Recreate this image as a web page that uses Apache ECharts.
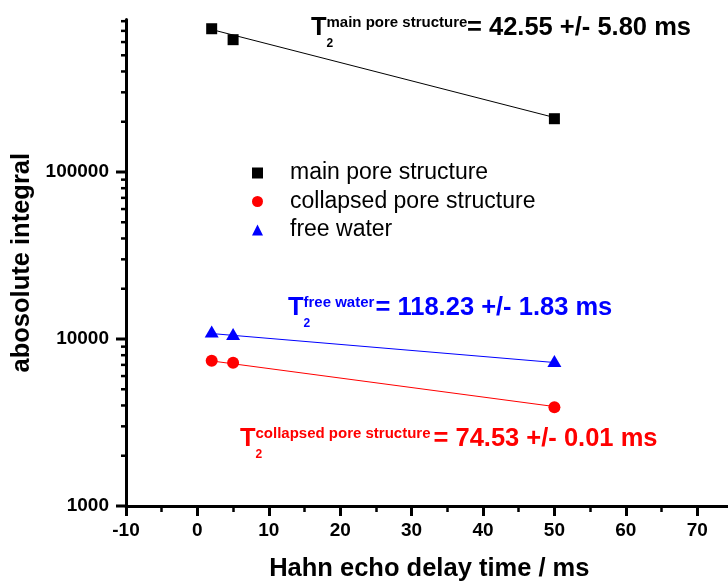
<!DOCTYPE html>
<html>
<head>
<meta charset="utf-8">
<title>Hahn echo decay</title>
<script src="https://cdn.jsdelivr.net/npm/echarts@6/dist/echarts.min.js"></script>
<style>
  html, body { margin: 0; padding: 0; background: #fff; }
  #chart { width: 728px; height: 581px; }
</style>
</head>
<body>
<div id="chart"></div>
<script>
// Hahn echo delay times (ms)
const delayTimes = [2, 5, 50];

// Absolute integrals of each component
const mainPore = [721000, 620000, 208500];
const collapsedPore = [7420, 7210, 3900];
const freeWater = [11100, 10710, 7380];

// Mono-exponential fit lines (start / end of the fitted range)
const fitTimes = [2, 50];
const fitMain = [713000, 212000];
const fitCollapsed = [7390, 3940];
const fitFree = [10780, 7230];

// Axis ranges
const xMin = -10, xMax = 80, xStep = 10;
const yMin = 1000, yMax = 820000;

// Decade and sub-decade tick marks on the log axis
const yMajorTicks = [1000, 10000, 100000];
const yMinorTicks = [
  2000, 3000, 4000, 5000, 6000, 7000, 8000, 9000,
  20000, 30000, 40000, 50000, 60000, 70000, 80000, 90000,
  200000, 300000, 400000, 500000, 600000, 700000, 800000
];

const FONT = '"Liberation Sans", Arial, sans-serif';
const BLACK = '#000000', RED = '#ff0000', BLUE = '#0000ff';

const pairs = (xs, ys) => xs.map((x, i) => [x, ys[i]]);

const tickData = yMajorTicks.map(v => [xMin, v, 1]).concat(yMinorTicks.map(v => [xMin, v, 0]));

// Superscript / subscript T2 annotation built from text pieces
function t2Label(color, tx, baseY, supText, mainX, mainText) {
  const big = 25.5, sup = 15, sub = 12;
  const mid = (b, s) => b - 0.3465 * s;
  const common = { fontFamily: FONT, fontWeight: 'bold', fill: color, verticalAlign: 'middle', align: 'left' };
  return [
    { type: 'text', x: tx, y: mid(baseY, big), style: Object.assign({ text: 'T', fontSize: big }, common) },
    { type: 'text', x: tx + 15.5, y: mid(baseY + 10.2, sub), style: Object.assign({ text: '2', fontSize: sub }, common) },
    { type: 'text', x: tx + 15.5, y: mid(baseY - 9, sup), style: Object.assign({ text: supText, fontSize: sup }, common) },
    { type: 'text', x: mainX, y: mid(baseY, big), style: Object.assign({ text: mainText, fontSize: big }, common) }
  ];
}

const chart = echarts.init(document.getElementById('chart'), null, { renderer: 'canvas' });

const option = {
  animation: false,
  backgroundColor: '#ffffff',
  grid: {
    left: 126,
    right: -40.6,
    top: 19.4,
    bottom: 75,
    containLabel: false,
    outerBoundsMode: 'none'
  },
  legend: {
    orient: 'vertical',
    left: 252,
    top: 161.5,
    padding: 0,
    itemGap: 5.5,
    itemWidth: 11,
    itemHeight: 11,
    textStyle: { fontFamily: FONT, fontSize: 23, color: BLACK, lineHeight: 23, padding: [0, 0, 0, 22] },
    data: [
      { name: 'main pore structure', icon: 'rect' },
      { name: 'collapsed pore structure', icon: 'circle' },
      { name: 'free water', icon: 'triangle' }
    ]
  },
  xAxis: {
    type: 'value',
    min: xMin,
    max: xMax,
    interval: xStep,
    name: 'Hahn echo delay time / ms',
    nameLocation: 'middle',
    nameGap: 50,
    nameTextStyle: { fontFamily: FONT, fontSize: 25.5, fontWeight: 'bold', color: BLACK, padding: [0, 36, 0, 0] },
    axisLine: { show: true, onZero: false, lineStyle: { color: BLACK, width: 3 } },
    axisTick: { show: true, inside: false, length: 10, lineStyle: { color: BLACK, width: 3 } },
    minorTick: { show: true, splitNumber: 2, length: 6, lineStyle: { color: BLACK, width: 2.5 } },
    axisLabel: { fontFamily: FONT, fontSize: 19, fontWeight: 'bold', color: BLACK, margin: 15, showMaxLabel: false },
    splitLine: { show: false },
    minorSplitLine: { show: false }
  },
  yAxis: {
    type: 'log',
    logBase: 10,
    min: yMin,
    max: yMax,
    name: 'abosolute integral',
    nameLocation: 'middle',
    nameGap: 88,
    nameTextStyle: { fontFamily: FONT, fontSize: 25.5, fontWeight: 'bold', color: BLACK },
    axisLine: { show: true, onZero: false, lineStyle: { color: BLACK, width: 3 } },
    axisTick: { show: false },
    axisLabel: {
      fontFamily: FONT, fontSize: 19, fontWeight: 'bold', color: BLACK, margin: 17,
      showMaxLabel: false,
      formatter: v => String(Math.round(v))
    },
    splitLine: { show: false }
  },
  series: [
    {
      name: 'main pore structure fit', type: 'line', data: pairs(fitTimes, fitMain),
      symbol: 'none', lineStyle: { color: BLACK, width: 1 }, silent: true, z: 2
    },
    {
      name: 'collapsed pore structure fit', type: 'line', data: pairs(fitTimes, fitCollapsed),
      symbol: 'none', lineStyle: { color: RED, width: 1 }, silent: true, z: 2
    },
    {
      name: 'free water fit', type: 'line', data: pairs(fitTimes, fitFree),
      symbol: 'none', lineStyle: { color: BLUE, width: 1 }, silent: true, z: 2
    },
    {
      name: 'main pore structure', type: 'scatter', data: pairs(delayTimes, mainPore),
      symbol: 'rect', symbolSize: 11, itemStyle: { color: BLACK, opacity: 1 }, z: 3
    },
    {
      name: 'collapsed pore structure', type: 'scatter', data: pairs(delayTimes, collapsedPore),
      symbol: 'circle', symbolSize: 12, itemStyle: { color: RED, opacity: 1 }, z: 3
    },
    {
      name: 'free water', type: 'scatter', data: pairs(delayTimes, freeWater),
      symbol: 'triangle', symbolSize: [14, 12], itemStyle: { color: BLUE, opacity: 1 }, z: 3
    },
    {
      // outward tick marks of the log axis: long at decades, short in between
      name: 'log ticks', type: 'custom', clip: false, silent: true, z: 5,
      data: tickData,
      renderItem: (params, api) => {
        const axisX = params.coordSys.x;
        const y = api.coord([api.value(0), api.value(1)])[1];
        const major = api.value(2) === 1;
        const len = major ? 10 : 5;
        return {
          type: 'line',
          shape: { x1: axisX - len, y1: y, x2: axisX, y2: y },
          style: { stroke: BLACK, lineWidth: major ? 3 : 2.5 }
        };
      }
    }
  ],
  graphic: [].concat(
    t2Label(BLACK, 311, 37.3, 'main pore structure', 467, '= 42.55 +/- 5.80 ms'),
    t2Label(BLUE, 288, 317.3, 'free water', 375.5, '= 118.23 +/- 1.83 ms'),
    t2Label(RED, 240, 448.3, 'collapsed pore structure', 433.5, '= 74.53 +/- 0.01 ms')
  )
};

chart.setOption(option);
</script>
</body>
</html>
